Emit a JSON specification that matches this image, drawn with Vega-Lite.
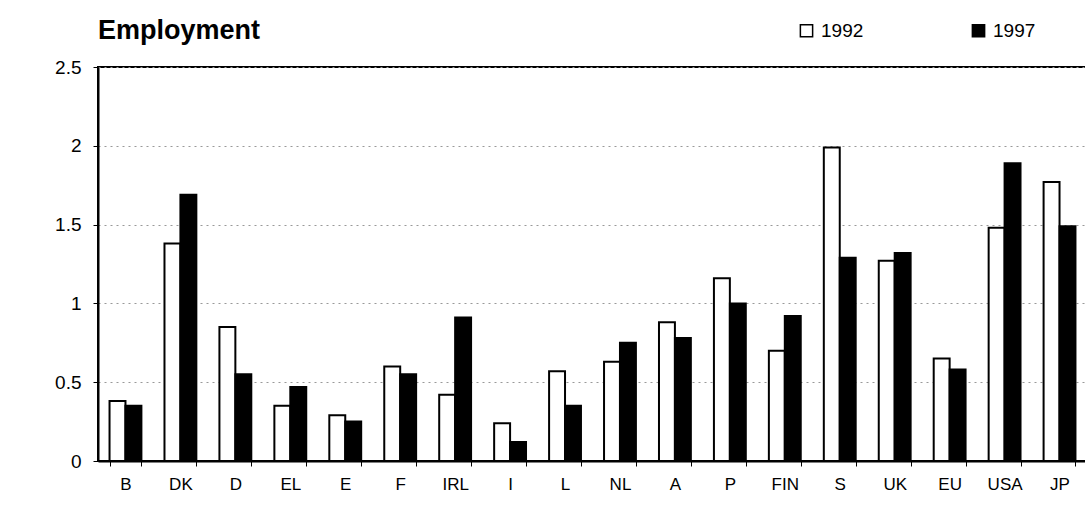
{
  "$schema": "https://vega.github.io/schema/vega-lite/v6.json",
  "width": 989,
  "height": 394,
  "autosize": "none",
  "padding": {"left": 98, "top": 67, "right": 0, "bottom": 51},
  "background": "white",
  "config": {
    "font": "Liberation Sans",
    "view": {"stroke": "black", "strokeWidth": 2}
  },
  "title": {
    "text": "Employment",
    "anchor": "start",
    "frame": "group",
    "fontSize": 27,
    "fontWeight": "bold",
    "font": "Liberation Sans",
    "color": "black",
    "dx": 0,
    "offset": -24
  },
  "data": {
    "values": [
      {"country": "B", "year": "1992", "value": 0.38},
      {"country": "B", "year": "1997", "value": 0.35},
      {"country": "DK", "year": "1992", "value": 1.38},
      {"country": "DK", "year": "1997", "value": 1.69},
      {"country": "D", "year": "1992", "value": 0.85},
      {"country": "D", "year": "1997", "value": 0.55},
      {"country": "EL", "year": "1992", "value": 0.35},
      {"country": "EL", "year": "1997", "value": 0.47},
      {"country": "E", "year": "1992", "value": 0.29},
      {"country": "E", "year": "1997", "value": 0.25},
      {"country": "F", "year": "1992", "value": 0.6},
      {"country": "F", "year": "1997", "value": 0.55},
      {"country": "IRL", "year": "1992", "value": 0.42},
      {"country": "IRL", "year": "1997", "value": 0.91},
      {"country": "I", "year": "1992", "value": 0.24},
      {"country": "I", "year": "1997", "value": 0.12},
      {"country": "L", "year": "1992", "value": 0.57},
      {"country": "L", "year": "1997", "value": 0.35},
      {"country": "NL", "year": "1992", "value": 0.63},
      {"country": "NL", "year": "1997", "value": 0.75},
      {"country": "A", "year": "1992", "value": 0.88},
      {"country": "A", "year": "1997", "value": 0.78},
      {"country": "P", "year": "1992", "value": 1.16},
      {"country": "P", "year": "1997", "value": 1.0},
      {"country": "FIN", "year": "1992", "value": 0.7},
      {"country": "FIN", "year": "1997", "value": 0.92},
      {"country": "S", "year": "1992", "value": 1.99},
      {"country": "S", "year": "1997", "value": 1.29},
      {"country": "UK", "year": "1992", "value": 1.27},
      {"country": "UK", "year": "1997", "value": 1.32},
      {"country": "EU", "year": "1992", "value": 0.65},
      {"country": "EU", "year": "1997", "value": 0.58},
      {"country": "USA", "year": "1992", "value": 1.48},
      {"country": "USA", "year": "1997", "value": 1.89},
      {"country": "JP", "year": "1992", "value": 1.77},
      {"country": "JP", "year": "1997", "value": 1.49}
    ]
  },
  "mark": {"type": "bar", "stroke": "black", "strokeWidth": 2},
  "encoding": {
    "x": {
      "field": "country",
      "type": "nominal",
      "sort": null,
      "title": null,
      "scale": {"paddingInner": 0.42, "paddingOuter": 0.21},
      "axis": {
        "labelAngle": 0,
        "labelFontSize": 17,
        "labelColor": "black",
        "labelPadding": 10,
        "tickBand": "extent",
        "tickColor": "black",
        "tickSize": 5,
        "domainColor": "black",
        "domainWidth": 2
      }
    },
    "xOffset": {"field": "year", "type": "nominal", "scale": {"paddingInner": 0, "paddingOuter": 0}},
    "y": {
      "field": "value",
      "type": "quantitative",
      "title": null,
      "scale": {"domain": [0, 2.5], "nice": false},
      "axis": {
        "values": [0, 0.5, 1, 1.5, 2, 2.5],
        "format": "~g",
        "labelFontSize": 19,
        "labelColor": "black",
        "labelPadding": 12,
        "tickColor": "black",
        "tickSize": 5,
        "domainColor": "black",
        "domainWidth": 2,
        "grid": true,
        "gridColor": "#999999",
        "gridDash": [2, 4],
        "gridWidth": 1
      }
    },
    "fill": {
      "field": "year",
      "type": "nominal",
      "scale": {"domain": ["1992", "1997"], "range": ["white", "black"]},
      "legend": {
        "title": null,
        "orient": "none",
        "legendX": 699,
        "legendY": -46,
        "direction": "horizontal",
        "symbolType": "square",
        "symbolSize": 150,
        "symbolStrokeColor": "black",
        "symbolStrokeWidth": 1.5,
        "labelFontSize": 19,
        "labelColor": "black",
        "labelOffset": 5,
        "columnPadding": 105
      }
    }
  }
}
